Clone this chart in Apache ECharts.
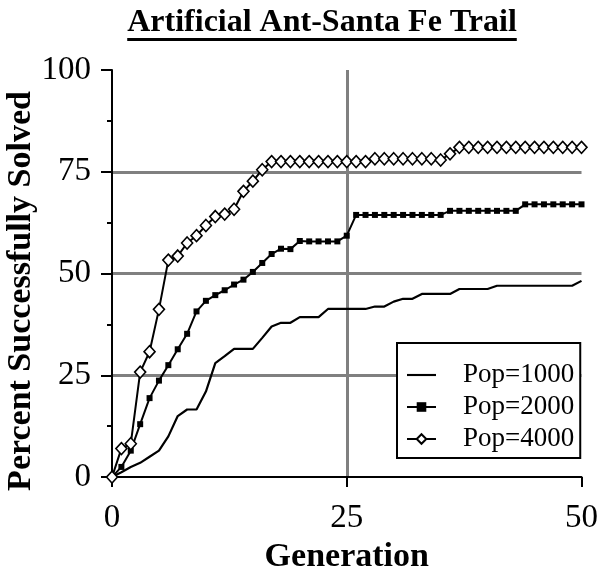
<!DOCTYPE html>
<html><head><meta charset="utf-8">
<script src="https://cdn.jsdelivr.net/npm/echarts@6/dist/echarts.min.js"></script>
<style>html,body{margin:0;padding:0;background:#fff}#c{width:601px;height:579px}</style>
</head><body><div id="c"></div>
<script>
// ---- data ----
const titleText = 'Artificial Ant-Santa Fe Trail';
const xName = 'Generation';
const yName = 'Percent Successfully Solved';
const seriesNames = ['Pop=1000', 'Pop=2000', 'Pop=4000'];
const generations = [0,1,2,3,4,5,6,7,8,9,10,11,12,13,14,15,16,17,18,19,20,21,22,23,24,25,
  26,27,28,29,30,31,32,33,34,35,36,37,38,39,40,41,42,43,44,45,46,47,48,49,50];
const pop1000 = [0,1.2,2.5,3.5,5,6.5,10,15,16.6,16.6,21,28,29.7,31.5,31.5,31.5,34.2,37,37.9,37.9,
  39.3,39.3,39.3,41.3,41.3,41.3,41.3,41.3,41.9,41.9,43.1,43.8,43.8,45,45,45,45,46.2,46.2,46.2,
  46.2,47,47,47,47,47,47,47,47,47,48.2];
const pop2000 = [0,2.5,6.5,13,19.4,23.7,27.5,31.4,35.2,40.7,43.3,44.7,45.9,47.3,48.5,50.4,52.6,54.8,
  56.1,56,58,57.9,57.9,57.9,57.9,59.3,64.4,64.4,64.4,64.4,64.4,64.4,64.4,64.4,64.4,64.4,
  65.4,65.4,65.4,65.4,65.4,65.4,65.4,65.4,67,67,67,67,67,67,67];
const pop4000 = [0,7,8.2,25.8,30.8,41.2,53.3,54.3,57.5,59.3,61.8,64,64.6,65.8,70.2,72.7,75.5,77.5,
  77.5,77.5,77.5,77.5,77.5,77.5,77.5,77.5,77.5,77.5,78.2,78.2,78.2,78.2,78.2,78.2,78.2,77.9,79.4,
  81,81,81,81,81,81,81,81,81,81,81,81,81,81];
const xTicks = [0, 25, 50];
const yTicks = [0, 25, 50, 75, 100];

// ---- chart ----
const serif = '"Liberation Serif","Times New Roman",serif';
const pairs = arr => generations.map((g, i) => [g, arr[i]]);
const titleFont = 'bold 32px ' + serif;
const cv = document.createElement('canvas').getContext('2d');
cv.font = titleFont;
const titleW = cv.measureText(titleText).width;
const titleCx = 322;

const chart = echarts.init(document.getElementById('c'), null, {renderer: 'canvas'});
chart.setOption({
  animation: false,
  backgroundColor: '#fff',
  grid: {left: 112, right: 18, top: 70, bottom: 87, containLabel: false},
  graphic: [
    {type: 'text', x: titleCx, y: 7, style: {text: titleText, font: titleFont, fill: '#000', align: 'center', verticalAlign: 'top'}},
    {type: 'rect', shape: {x: titleCx - titleW / 2, y: 38, width: titleW, height: 3}, style: {fill: '#000'}},
    {type: 'text', x: 21, y: 291, rotation: Math.PI / 2,
      style: {text: yName, font: 'bold 34px ' + serif, fill: '#000', align: 'center', verticalAlign: 'middle'}}
  ],
  xAxis: {
    type: 'value', min: xTicks[0], max: xTicks[xTicks.length - 1], interval: xTicks[1] - xTicks[0],
    name: xName, nameLocation: 'middle', nameGap: 53,
    nameTextStyle: {fontFamily: serif, fontWeight: 'bold', fontSize: 34, color: '#000'},
    axisLine: {onZero: false, lineStyle: {color: '#000', width: 2}},
    axisTick: {inside: false, length: 10, lineStyle: {color: '#000', width: 2}},
    axisLabel: {fontFamily: serif, fontSize: 33, color: '#000', margin: 25},
    splitLine: {show: true, showMinLine: false, showMaxLine: false, lineStyle: {color: '#808080', width: 3}}
  },
  yAxis: {
    type: 'value', min: yTicks[0], max: yTicks[yTicks.length - 1], interval: yTicks[1] - yTicks[0],
    axisLine: {show: true, lineStyle: {color: '#000', width: 2}},
    axisTick: {show: true, inside: false, length: 11, lineStyle: {color: '#000', width: 2}},
    minorTick: {show: true, splitNumber: 2, length: 5, lineStyle: {color: '#000', width: 2}},
    axisLabel: {fontFamily: serif, fontSize: 33, color: '#000', margin: 21},
    splitLine: {show: true, showMinLine: false, showMaxLine: false, lineStyle: {color: '#808080', width: 3}}
  },
  legend: {
    orient: 'vertical', left: 397, top: 343, selectedMode: false,
    backgroundColor: '#fff', borderColor: '#000', borderWidth: 2,
    padding: [16, 6, 3, 9], itemGap: 0, itemWidth: 29, itemHeight: 12,
    textStyle: {fontFamily: serif, fontSize: 27, color: '#000', lineHeight: 32, padding: [0, 0, 0, 22]},
    data: [
      {name: seriesNames[0], icon: 'path://M0,0L30,0L30,2.2L0,2.2Z', itemStyle: {color: '#000'}},
      {name: seriesNames[1]},
      {name: seriesNames[2]}
    ]
  },
  series: [
    {name: seriesNames[0], type: 'line', data: pairs(pop1000), symbol: 'none', z: 2,
      lineStyle: {color: '#000', width: 2.2}, itemStyle: {color: '#000'}},
    {name: seriesNames[1], type: 'line', data: pairs(pop2000), symbol: 'rect', symbolSize: 6, showAllSymbol: true, z: 3,
      lineStyle: {color: '#000', width: 2}, itemStyle: {color: '#000'}},
    {name: seriesNames[2], type: 'line', data: pairs(pop4000), symbol: 'diamond', symbolSize: [11, 12], showAllSymbol: true, z: 4,
      lineStyle: {color: '#000', width: 2}, itemStyle: {color: '#fff', borderColor: '#000', borderWidth: 1.6}}
  ]
});
</script></body></html>
